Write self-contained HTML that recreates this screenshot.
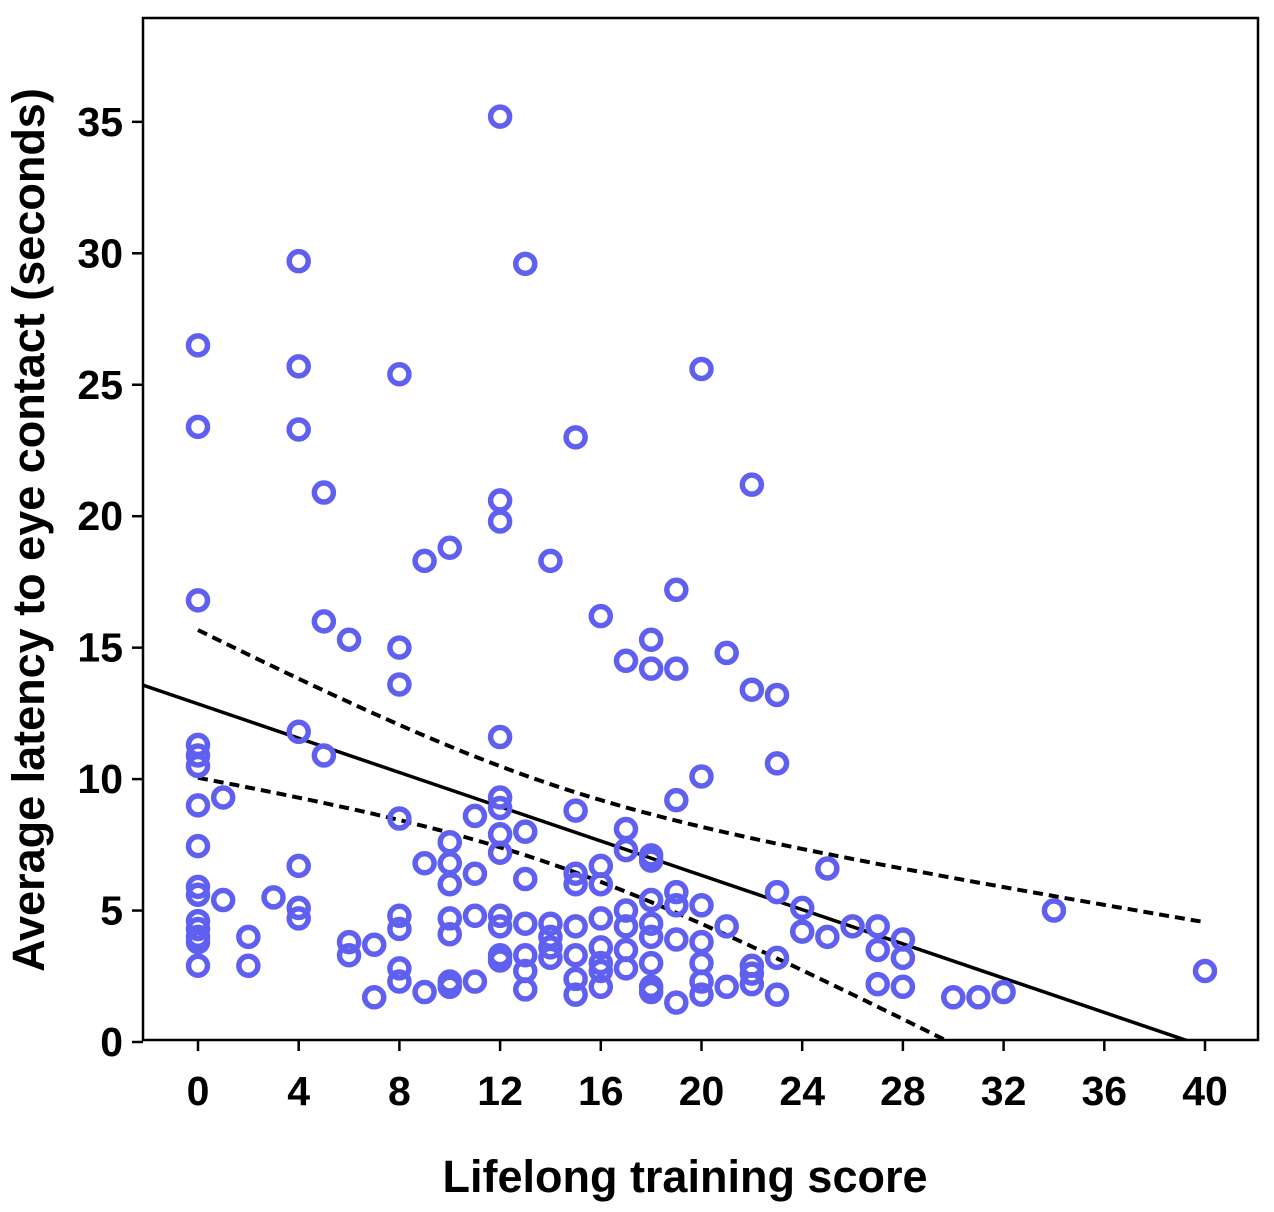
<!DOCTYPE html>
<html><head><meta charset="utf-8"><style>
html,body{margin:0;padding:0;background:#fff;}
svg{display:block;font-family:"Liberation Sans",Arial,sans-serif;font-weight:bold;}
</style></head><body>
<svg id="chart" width="1274" height="1212" viewBox="0 0 1274 1212">
<rect x="143" y="18" width="1115" height="1022" fill="#fff" stroke="#000" stroke-width="2.5"/>
<g id="fits"></g>
<g id="pts"></g>
<g id="axes"></g>
<text x="685" y="1192" font-size="45" text-anchor="middle">Lifelong training score</text>
<text transform="translate(44,530) rotate(-90)" font-size="45" text-anchor="middle">Average latency to eye contact (seconds)</text>
</svg>
<script>
const xTicks=[0,4,8,12,16,20,24,28,32,36,40];
const yTicks=[0,5,10,15,20,25,30,35];
const xs=[0,0,0,0,0,0,0,0,0,0,0,0,0,0,0,1,1,2,2,3,4,4,4,4,4,4,4,5,5,5,6,6,6,7,7,8,8,8,8,8,8,8,8,9,9,9,10,10,10,10,10,10,10,10,11,11,11,11,12,12,12,12,12,12,12,12,12,12,12,12,13,13,13,13,13,13,13,14,14,14,14,14,15,15,15,15,15,15,15,15,16,16,16,16,16,16,16,16,17,17,17,17,17,17,17,18,18,18,18,18,18,18,18,18,18,19,19,19,19,19,19,19,20,20,20,20,20,20,20,21,21,21,22,22,22,22,22,23,23,23,23,23,24,24,25,25,26,27,27,27,28,28,28,30,31,32,34,40];
const ys=[26.5,23.4,16.8,11.3,10.9,10.5,9.0,7.45,5.9,5.6,4.6,4.3,4.0,3.8,2.9,9.3,5.4,4.0,2.9,5.5,29.7,25.7,23.3,11.8,6.7,5.1,4.7,20.9,16.0,10.9,15.3,3.8,3.3,3.7,1.7,25.4,15.0,13.6,8.5,4.8,4.3,2.8,2.3,18.3,6.8,1.9,18.8,7.6,6.8,6.0,4.7,4.1,2.3,2.1,8.6,6.4,4.8,2.3,35.2,20.6,19.8,11.6,9.3,8.9,7.9,7.2,4.8,4.4,3.3,3.1,29.6,8.0,6.2,4.5,3.3,2.7,2.0,18.3,4.5,4.0,3.6,3.2,23.0,8.8,6.4,6.0,4.4,3.3,2.4,1.8,16.2,6.7,6.0,4.7,3.6,3.0,2.7,2.1,14.5,8.1,7.3,5.0,4.4,3.5,2.8,15.3,14.2,7.1,6.9,5.4,4.5,4.0,3.0,2.1,1.9,17.2,14.2,9.2,5.7,5.2,3.9,1.5,25.6,10.1,5.2,3.8,3.0,2.3,1.8,14.8,4.4,2.1,21.2,13.4,2.9,2.6,2.2,13.2,10.6,5.7,3.2,1.8,5.1,4.2,6.6,4.0,4.4,4.4,3.5,2.2,3.9,3.2,2.1,1.7,1.7,1.9,5.0,2.7];
const fitIntercept=12.86, fitSlope=-0.326;
const ciA=2.28, ciB=0.0294, ciMean=13.82;
const NS="http://www.w3.org/2000/svg";
const X=v=>198+v*25.175, Y=v=>1042-v*26.29;
function mk(t,a,p){const e=document.createElementNS(NS,t);for(const k in a)e.setAttribute(k,a[k]);p.appendChild(e);return e;}
const axes=document.getElementById('axes');
xTicks.forEach(t=>{
 const l=mk('line',{x1:X(t),x2:X(t),y1:1040,y2:1051,stroke:'#000','stroke-width':2.5},axes);
 
 
 const tx=mk('text',{x:X(t),y:1105,'font-size':41,'text-anchor':'middle'},axes);tx.textContent=t;
 
 
});
yTicks.forEach(t=>{
 const l=mk('line',{x1:132,x2:143,y1:Y(t),y2:Y(t),stroke:'#000','stroke-width':2.5},axes);
 
 
 const tx=mk('text',{x:123,y:Y(t)+14,'font-size':41,'text-anchor':'end'},axes);tx.textContent=t;
 
 
});
const fits=document.getElementById('fits');
mk('clipPath',{id:'cp'},fits).appendChild(document.createElementNS(NS,'rect'));
const cr=fits.querySelector('clipPath rect');cr.setAttribute('x',143);cr.setAttribute('y',18);cr.setAttribute('width',1115);cr.setAttribute('height',1022);
const xmin=(143-198)/25.175;
const fl=mk('line',{x1:X(xmin),y1:Y(fitIntercept+fitSlope*xmin),x2:X(45),y2:Y(fitIntercept+fitSlope*45),stroke:'#000','stroke-width':3.5,'clip-path':'url(#cp)'},fits);


[1,-1].forEach(s=>{
 let d='';
 for(let x=0;x<=40.001;x+=0.5){const y=fitIntercept+fitSlope*x+s*Math.sqrt(ciA+ciB*(x-ciMean)**2);d+=(d?'L':'M')+X(x).toFixed(1)+','+Y(y).toFixed(1);}
 const p=mk('path',{d:d,fill:'none',stroke:'#000','stroke-width':4,'stroke-dasharray':'10,6','clip-path':'url(#cp)'},fits);
 
 
});
const pts=document.getElementById('pts');
xs.forEach((x,i)=>{
 const c=mk('circle',{cx:X(x),cy:Y(ys[i]),r:9.5,fill:'none',stroke:'#5f5ff0','stroke-width':5.5},pts);
 
 
});
</script>
</body></html>
